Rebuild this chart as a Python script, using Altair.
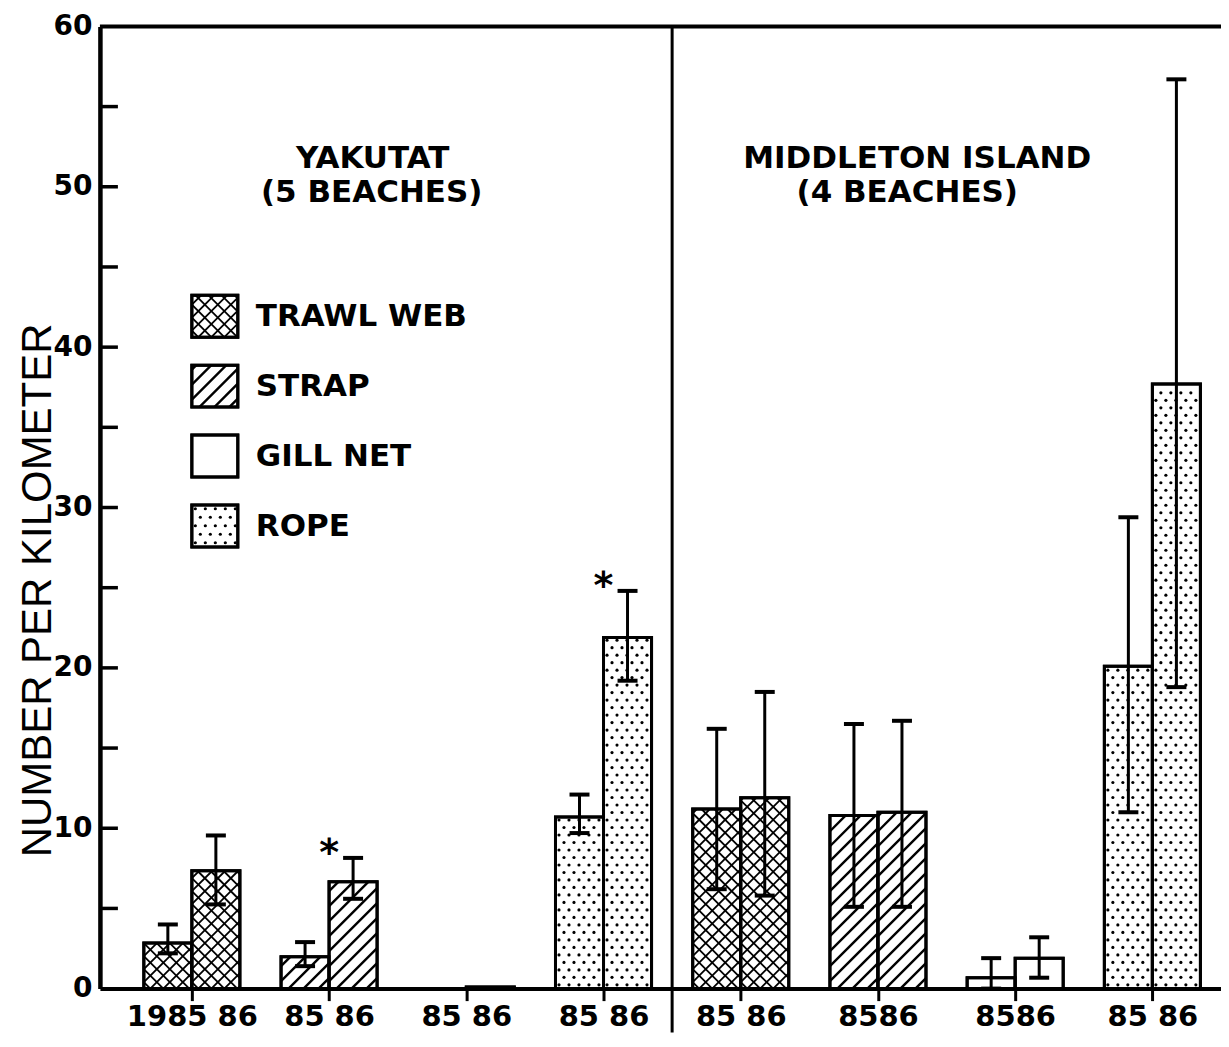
import json
import math
import pandas as pd
import altair as alt

# ---------------- data ----------------
categories = ["TRAWL WEB", "STRAP", "GILL NET", "ROPE"]
regions = ["YAKUTAT", "MIDDLETON ISLAND"]
region_notes = ["(5 BEACHES)", "(4 BEACHES)"]
x_labels = ["1985 86", "85 86", "85 86", "85 86", "85 86", "8586", "8586", "85 86"]
y_title = "NUMBER PER KILOMETER"

# one value per group: Yakutat (trawl, strap, gill, rope), Middleton (trawl, strap, gill, rope)
mean_85 = [2.84, 1.98, 0.0, 10.7, 11.2, 10.8, 0.68, 20.1]
mean_86 = [7.35, 6.67, 0.1, 21.9, 11.9, 11.0, 1.9, 37.7]
hi_85 = [4.0, 2.9, None, 12.1, 16.2, 16.5, 1.9, 29.4]
lo_85 = [2.2, 1.4, None, 9.7, 6.2, 5.1, 0.0, 11.0]
hi_86 = [9.55, 8.15, None, 24.8, 18.5, 16.7, 3.2, 56.7]
lo_86 = [5.25, 5.6, None, 19.2, 5.8, 5.1, 0.68, 18.8]
significant_86 = [False, True, False, True, False, False, False, False]

# ---------------- layout / style ----------------
PAD_TOP, PAD_BOTTOM = 18, 44
W, H = 1122, 963
XMIN, XMAX = -0.67, 7.5
YMAX = 60
BW = 0.35                       # bar width in group units
KX = W / (XMAX - XMIN)          # px per x unit
KY = H / YMAX                   # px per y unit
FONT = "DejaVu Sans"
patterns = {"TRAWL WEB": "cross", "STRAP": "fwd", "GILL NET": "none", "ROPE": "dots"}
hatch_step = {"cross": 13.0, "fwd": 15.0}
hatch_width = {"cross": 1.8, "fwd": 2.4}
DOT_DX, DOT_DY, DOT_SIZE = 10.0, 7.5, 10


def hatch_segments(bw, bh, step, kind):
    segs = []
    if bh <= 0.5:
        return segs
    if kind in ("fwd", "cross"):
        k0 = math.floor(-bh / step) - 1
        k1 = math.ceil(bw / step) + 1
        for k in range(k0, k1):
            c = (k + 0.5) * step
            u1, u2 = max(0.0, c), min(bw, bh + c)
            if u2 - u1 > 0.4:
                segs.append((u1, u1 - c, u2, u2 - c))
    if kind in ("back", "cross"):
        k = 0
        while True:
            c = (k + 0.5) * step
            if c >= bw + bh:
                break
            u1, u2 = max(0.0, c - bh), min(bw, c)
            if u2 - u1 > 0.4:
                segs.append((u1, c - u1, u2, c - u2))
            k += 1
    return segs


def dot_points(bw, bh, dx, dy):
    pts = []
    i = 0
    w = dy / 2
    while w <= bh - 2:
        u = 3.5 + (dx / 2 if i % 2 else 0.0)
        while u <= bw - 2.5:
            pts.append((u, w))
            u += dx
        w += dy
        i += 1
    return pts


# ---------------- build tables ----------------
bar_rows, err_rows, seg_rows, dot_rows, star_rows = [], [], [], [], []
for g in range(8):
    cat = categories[g % 4]
    for yi, (m, hi, lo) in enumerate([(mean_85[g], hi_85[g], lo_85[g]),
                                      (mean_86[g], hi_86[g], lo_86[g])]):
        x0 = g - BW + yi * BW
        x1 = x0 + BW
        bar_rows.append({"x0": x0, "x1": x1, "value": m, "base": 0.0,
                         "category": cat, "year": ["85", "86"][yi]})
        if hi is not None:
            err_rows.append({"xm": (x0 + x1) / 2, "hi": hi, "lo": lo})
        kind = patterns[cat]
        bw_px, bh_px = (x1 - x0) * KX, m * KY
        if kind in ("fwd", "cross"):
            for (ua, wa, ub, wb) in hatch_segments(bw_px, bh_px, hatch_step[kind], kind):
                seg_rows.append({"xa": x0 + ua / KX, "ya": wa / KY,
                                 "xb": x0 + ub / KX, "yb": wb / KY,
                                 "sw": hatch_width[kind]})
        elif kind == "dots":
            for (u, w) in dot_points(bw_px, bh_px, DOT_DX, DOT_DY):
                dot_rows.append({"xd": x0 + u / KX, "yd": w / KY})
    if significant_86[g]:
        star_rows.append({"xs": g, "ys": hi_86[g], "t": "*"})

bar_df = pd.DataFrame(bar_rows)
err_df = pd.DataFrame(err_rows)
seg_df = pd.DataFrame(seg_rows)
dot_df = pd.DataFrame(dot_rows)
star_df = pd.DataFrame(star_rows)

# legend (pixel coordinates inside the plot area)
leg_x0, leg_size_w, leg_size_h = 92, 46, 42
leg_tops = [269, 339, 409, 479]
leg_text_x = 156
leg_rows, leg_seg_rows, leg_dot_rows, leg_txt_rows = [], [], [], []
for cat, top in zip(categories, leg_tops):
    leg_rows.append({"lx0": leg_x0, "lx1": leg_x0 + leg_size_w, "ly0": top, "ly1": top + leg_size_h})
    leg_txt_rows.append({"tx": leg_text_x, "ty": top + leg_size_h / 2 + 1, "label": cat})
    kind = patterns[cat]
    bottom = top + leg_size_h
    if kind in ("fwd", "cross"):
        for (ua, wa, ub, wb) in hatch_segments(leg_size_w, leg_size_h, hatch_step[kind], kind):
            leg_seg_rows.append({"xa": leg_x0 + ua, "ya": bottom - wa,
                                 "xb": leg_x0 + ub, "yb": bottom - wb,
                                 "sw": hatch_width[kind]})
    elif kind == "dots":
        for (u, w) in dot_points(leg_size_w, leg_size_h, DOT_DX, DOT_DY + 1):
            leg_dot_rows.append({"xd": leg_x0 + u, "yd": bottom - w})
leg_df = pd.DataFrame(leg_rows)
leg_seg_df = pd.DataFrame(leg_seg_rows)
leg_dot_df = pd.DataFrame(leg_dot_rows)
leg_txt_df = pd.DataFrame(leg_txt_rows)

title_df = pd.DataFrame({
    "label": [regions[0], region_notes[0], regions[1], region_notes[1]],
    "px": [273, 272, 818, 808],
    "py": [142, 176, 142, 176],
})

# ---------------- chart ----------------
x_scale = alt.Scale(domain=[XMIN, XMAX], nice=False, zero=False)
y_scale = alt.Scale(domain=[0, YMAX], nice=False)

label_expr = json.dumps(x_labels) + "[datum.value]"
x_axis = alt.Axis(values=list(range(8)), labelExpr=label_expr, title=None, grid=False,
                  tickSize=12, tickWidth=3, tickColor="black", domainWidth=4,
                  domainColor="black", labelFont=FONT, labelFontWeight="bold",
                  labelFontSize=29, labelColor="black", labelPadding=2,
                  labelFlush=False, labelOverlap=False)
y_axis = alt.Axis(values=list(range(0, 61, 10)), ticks=False, grid=False,
                  domainWidth=4.5, domainColor="black", labelFont=FONT,
                  labelFontWeight="bold", labelFontSize=28, labelColor="black",
                  labelPadding=8, title=y_title, titleFont="Liberation Sans",
                  titleFontSize=42, titleFontWeight="normal", titleColor="black",
                  titleAngle=270, titleX=-49, titleY=564, titleAlign="center",
                  titleBaseline="alphabetic")


def X(field):
    return alt.X(field, scale=x_scale, axis=x_axis, title=None)


def Y(field):
    return alt.Y(field, scale=y_scale, axis=y_axis, title=y_title)


def PX(field):
    return alt.X(field, scale=None)


def PY(field):
    return alt.Y(field, scale=None)


bars = alt.Chart(bar_df).mark_rect(fill="white", stroke="black", strokeWidth=3).encode(
    x=X("x0:Q"), x2="x1:Q", y=Y("value:Q"), y2="base:Q")

hatch = alt.Chart(seg_df).mark_rule(color="black", strokeCap="butt").encode(
    x=X("xa:Q"), x2="xb:Q", y=Y("ya:Q"), y2="yb:Q",
    strokeWidth=alt.StrokeWidth("sw:Q", scale=None, legend=None))

dots = alt.Chart(dot_df).mark_circle(color="black", size=DOT_SIZE, opacity=1).encode(
    x=X("xd:Q"), y=Y("yd:Q"))

outline = alt.Chart(bar_df).mark_rect(fillOpacity=0, stroke="black", strokeWidth=3).encode(
    x=X("x0:Q"), x2="x1:Q", y=Y("value:Q"), y2="base:Q")

err_line = alt.Chart(err_df).mark_rule(color="black", strokeWidth=3, opacity=1).encode(
    x=X("xm:Q"), y=Y("lo:Q"), y2="hi:Q")
cap_hi = alt.Chart(err_df).mark_tick(color="black", orient="horizontal", size=20,
                                     thickness=4, opacity=1).encode(
    x=X("xm:Q"), y=Y("hi:Q"))
cap_lo = alt.Chart(err_df).mark_tick(color="black", orient="horizontal", size=20,
                                     thickness=4, opacity=1).encode(
    x=X("xm:Q"), y=Y("lo:Q"))

stars = alt.Chart(star_df).mark_text(font=FONT, fontSize=38, fontWeight="bold", dy=7,
                                     baseline="alphabetic", align="center", color="black").encode(
    x=X("xs:Q"), y=Y("ys:Q"), text="t:N")

inner_ticks = alt.Chart(pd.DataFrame({"t": list(range(5, 60, 5))})).mark_rule(
    color="black", strokeWidth=3.5).encode(
    y=Y("t:Q"), x=alt.value(0), x2=alt.value(18))

top_frame = alt.Chart(pd.DataFrame({"t": [YMAX]})).mark_rule(color="black", strokeWidth=4).encode(
    y=Y("t:Q"))

divider = alt.Chart(pd.DataFrame({"d": [3.5]})).mark_rule(color="black", strokeWidth=3).encode(
    x=X("d:Q"), y=alt.value(0), y2=alt.value(H + PAD_BOTTOM))

leg_box = alt.Chart(leg_df).mark_rect(fill="white", stroke="black", strokeWidth=3).encode(
    x=PX("lx0:Q"), x2="lx1:Q", y=PY("ly0:Q"), y2="ly1:Q")
leg_hatch = alt.Chart(leg_seg_df).mark_rule(color="black", strokeCap="butt").encode(
    x=PX("xa:Q"), x2="xb:Q", y=PY("ya:Q"), y2="yb:Q",
    strokeWidth=alt.StrokeWidth("sw:Q", scale=None, legend=None))
leg_dots = alt.Chart(leg_dot_df).mark_circle(color="black", size=DOT_SIZE, opacity=1).encode(
    x=PX("xd:Q"), y=PY("yd:Q"))
leg_outline = alt.Chart(leg_df).mark_rect(fillOpacity=0, stroke="black", strokeWidth=3).encode(
    x=PX("lx0:Q"), x2="lx1:Q", y=PY("ly0:Q"), y2="ly1:Q")
leg_text = alt.Chart(leg_txt_df).mark_text(font=FONT, fontWeight="bold", fontSize=31,
                                           align="left", baseline="middle", color="black").encode(
    x=PX("tx:Q"), y=PY("ty:Q"), text="label:N")

titles = alt.Chart(title_df).mark_text(font=FONT, fontWeight="bold", fontSize=31,
                                       align="center", baseline="alphabetic", color="black").encode(
    x=PX("px:Q"), y=PY("py:Q"), text="label:N")

chart = alt.layer(
    bars, hatch, dots, outline, err_line, cap_hi, cap_lo, stars,
    inner_ticks, top_frame, divider,
    leg_box, leg_hatch, leg_dots, leg_outline, leg_text, titles,
).properties(
    width=W, height=H,
    autosize=alt.AutoSizeParams(type="none"),
    padding={"left": 92, "top": PAD_TOP, "right": 0, "bottom": PAD_BOTTOM},
    background="white",
).configure_view(strokeWidth=0)

chart.save("out.html", embed_options={"renderer": "svg", "actions": False})
